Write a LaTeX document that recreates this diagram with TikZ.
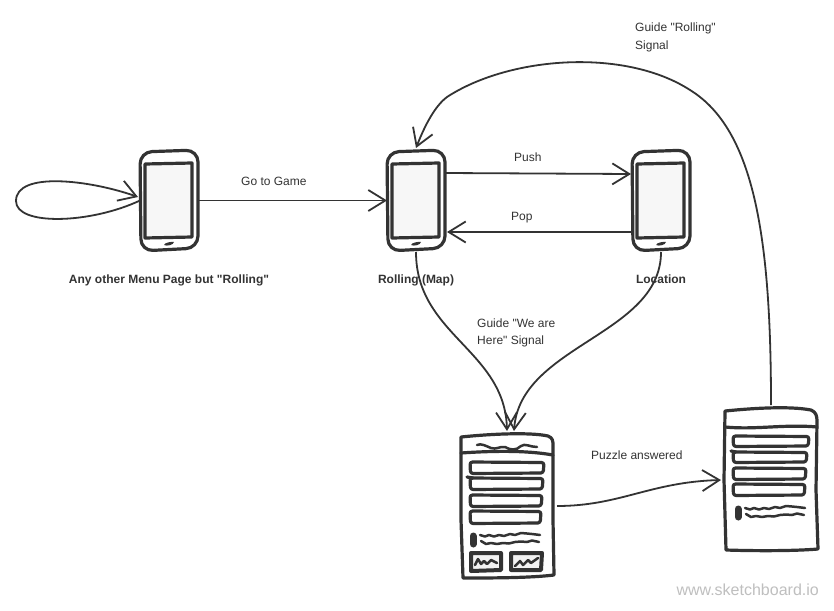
\documentclass[tikz,border=0pt]{standalone}
\usepackage{fontspec}
\setmainfont[Ligatures=TeXOff]{Liberation Sans}
\usetikzlibrary{arrows.meta}
\definecolor{ink}{HTML}{333333}
\tikzset{
  x=1pt,y=-1pt,
  conn/.style={draw=ink,line width=1.8pt,-{Straight Barb[length=17pt,width=21pt,line width=1.8pt]}},
  sk/.style={draw=ink,line width=3.2pt,line join=round,line cap=round},
  skthin/.style={draw=ink,line width=2.5pt,line join=round,line cap=round},
  anchorbox/.style={inner sep=0pt,outer sep=0pt,minimum width=58pt,minimum height=100pt},
  tabbox/.style={inner sep=0pt,outer sep=0pt,minimum width=93pt,minimum height=144pt},
  lab/.style={font=\fontsize{12}{14}\selectfont,text=ink,inner sep=0pt,anchor=base west},
  blab/.style={font=\fontsize{12}{14}\selectfont\bfseries,text=ink,inner sep=0pt,anchor=base},
  wm/.style={font=\fontsize{16}{18}\selectfont,text=black!25,inner sep=0pt,anchor=base east},
}
\newcommand{\phonedraw}[2]{%
  \node[anchorbox] (#2) at (#1+29,200.5) {};
  \begin{scope}[shift={(#1,150)}]
    \draw[sk,rounded corners=12pt] (0,2) -- (58,0) -- (58,98) -- (1,101) -- cycle;
    \draw[sk,fill=black!3] (5,14) -- (52,13) -- (52,87) -- (5,88) -- cycle;
    \fill[ink] (24,95) .. controls (25,92.5) and (31,91.5) .. (34,92) .. controls (33.5,95) and (27,96.5) .. (24,95) -- cycle;
  \end{scope}}
\newcommand{\rowbox}[4]{%
  \draw[sk,rounded corners=2.5pt] (#1,#2) -- (#3,#2+.5) -- (#3-.8,#4) -- (#1+.5,#4+.5) -- cycle;}
\newcommand{\scrib}[2]{%
  \draw[skthin] (#1,#2) -- (#1+5,#2+1.5) -- (#1+9,#2) -- (#1+14,#2+1.5) -- (#1+19,#2) -- (#1+24,#2+1) -- (#1+30,#2-1) -- (#1+35,#2) -- (#1+41,#2-2) -- (#1+47,#2-1.5) -- (#1+52,#2-1) -- (#1+60,#2);
  \draw[skthin] (#1+1,#2+6) -- (#1+6,#2+9) -- (#1+11,#2+8) -- (#1+17,#2+9) -- (#1+23,#2+8) -- (#1+29,#2+8.5) -- (#1+35,#2+7) -- (#1+41,#2+6.5) -- (#1+47,#2+7) -- (#1+52,#2+5.5) -- (#1+59,#2+7);
  \draw[draw=ink,line width=7pt,line cap=round] (#1-7,#2+1) -- (#1-7,#2+9);}
\begin{document}
\begin{tikzpicture}
\useasboundingbox (0,0) rectangle (834,610);
\fill[white] (0,0) rectangle (834,610);

% phones
\phonedraw{140}{pa}
\phonedraw{387}{pb}
\phonedraw{632}{pc}

% tablet 1
\node[tabbox] (ta) at (507.5,506) {};
\draw[sk] (461,437) .. controls (490,434) and (530,432) .. (548,436)
  .. controls (553,438) and (553,441) .. (553,446) -- (553,520) -- (554,575)
  .. controls (530,578) and (490,578) .. (463,578) -- (461,520) -- cycle;
\draw[sk] (461,453) .. controls (490,451) and (525,450) .. (553,455);
\draw[skthin] (477,445) .. controls (481,443) and (486,446) .. (491,448)
  .. controls (496,450) and (500,446) .. (505,447) .. controls (510,450) and (516,451) .. (521,446)
  .. controls (525,443) and (530,447) .. (537,447);
\rowbox{470}{462}{544}{473}
\rowbox{470}{478}{543}{489}
\draw[sk] (467,477) -- (473,478);
\rowbox{470}{495}{542}{506}
\rowbox{470}{511}{541}{523}
\scrib{480}{535}
\draw[sk,line width=4pt,fill=black!5] (471,553) -- (501,553) -- (501,570) -- (471,571) -- cycle;
\draw[sk,line width=4pt,fill=black!5] (511,553) -- (542,553) -- (541,570) -- (511,570) -- cycle;
\draw[skthin] (475,565) -- (478,559) -- (481,564) -- (484,561) -- (487,564) -- (491,560) -- (497,563);
\draw[skthin] (515,566) -- (520,561) -- (523,565) -- (528,560) -- (531,563) -- (538,558);

% tablet 2
\node[tabbox] (tb) at (771,479) {};
\draw[sk] (725,411) .. controls (755,408) and (790,406) .. (811,410)
  .. controls (816,412) and (817,416) .. (817,421) -- (816,490) -- (818,549)
  .. controls (795,551) and (755,551) .. (726,550) -- (724,480) -- cycle;
\draw[sk] (725,427) .. controls (755,430) and (785,424) .. (817,427);
\rowbox{733}{436}{809}{446}
\rowbox{733}{452}{807}{462}
\draw[sk] (731,451) -- (736,452);
\rowbox{733}{468}{806}{479}
\rowbox{733}{484}{805}{495}
\scrib{745}{508}

% connectors
\coordinate (loopa) at (138,197);
\draw[conn] (pa.west) .. controls (90,224) and (16,226) .. (16,201)
  .. controls (16,171) and (90,180) .. (loopa);
\draw[conn] (pa.east) -- (pb.west);
\coordinate (bo) at (445,173);
\coordinate (ci) at (631,174);
\draw[conn] (bo) -- (ci);
\coordinate (co) at (632,232);
\coordinate (bi) at (447,232);
\draw[conn] (co) -- (bi);
\coordinate (bs) at (416,252);
\coordinate (cs) at (661,252);
\coordinate (t1) at (507,431);
\coordinate (t2) at (514,431);
\draw[conn] (bs) .. controls (416,335) and (505,350) .. (t1);
\draw[conn] (cs) .. controls (661,335) and (520,345) .. (t2);
\coordinate (lo) at (557,506);
\coordinate (li) at (721,480);
\draw[conn] (lo) .. controls (620,506) and (650,482) .. (li);
\coordinate (g0) at (771,405);
\coordinate (g1) at (416,148);
\draw[conn] (g0) .. controls (771,240) and (755,130) .. (690,90)
  .. controls (625,48) and (510,56) .. (447,97)
  .. controls (435,106) and (425,125) .. (g1);

% labels
\node[lab] (l1) at (241,185) {Go to Game};
\node[lab] (l2) at (514,161) {Push};
\node[lab] (l3) at (511,220) {Pop};
\node[lab] (l4) at (635,32) {Guide "Rolling"};
\node[lab] (l5) at (635,49) {Signal};
\node[lab] (l6) at (477,327) {Guide "We are};
\node[lab] (l7) at (477,344) {Here" Signal};
\node[lab] (l8) at (591,459) {Puzzle answered};
\node[blab] (l9) at (169,283) {Any other Menu Page but "Rolling"};
\node[blab] (l10) at (416,283) {Rolling (Map)};
\node[blab] (l11) at (661,283) {Location};
\node[wm] (l12) at (819,595) {www.sketchboard.io};
\end{tikzpicture}
\end{document}
